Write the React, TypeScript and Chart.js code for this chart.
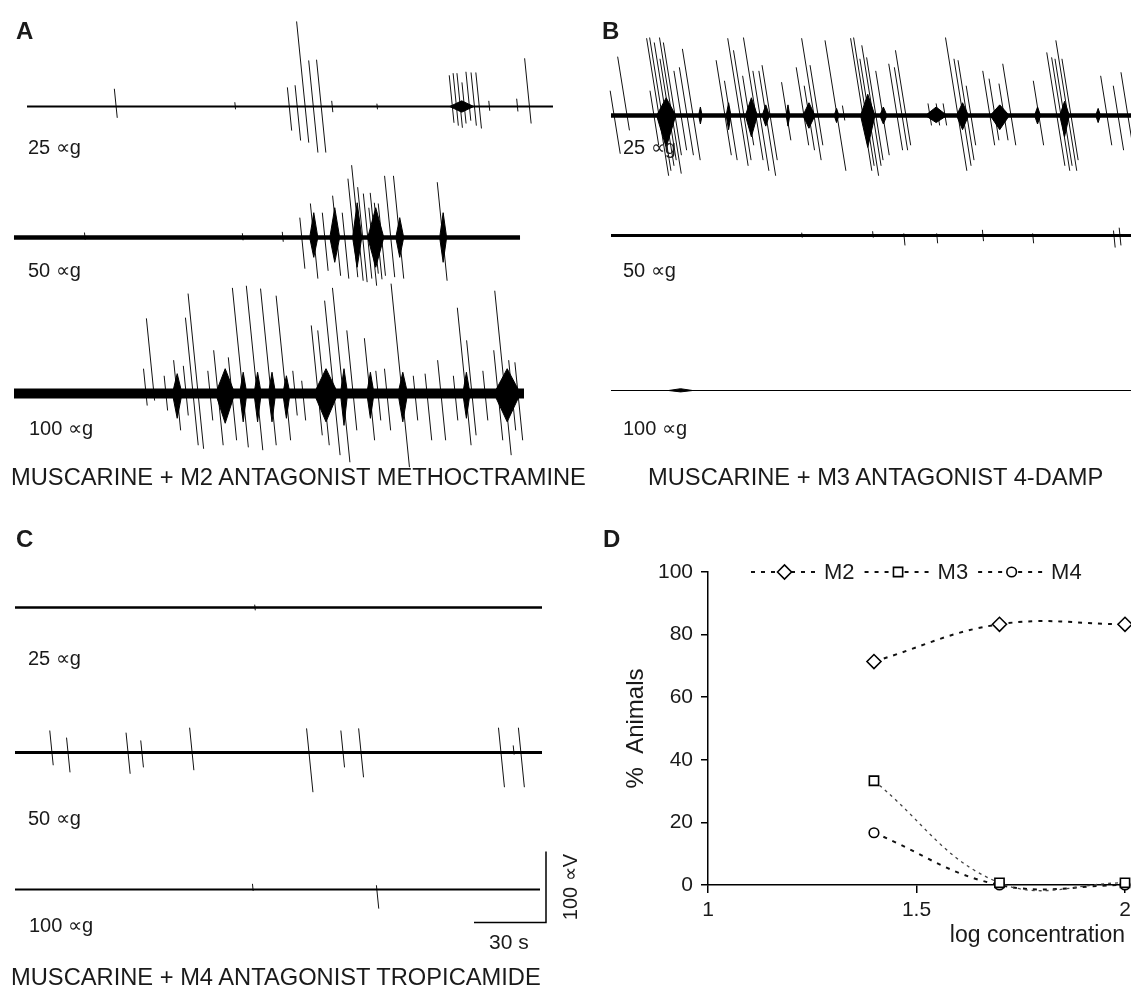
import React, { useEffect, useRef } from "react";
import { Chart, registerables } from "chart.js";
import { drawPoint } from "chart.js/helpers";

Chart.register(...registerables);

const FONT = '"Liberation Sans", Arial, Helvetica, sans-serif';
const INK = "#1a1a1a";
Chart.defaults.font.family = FONT;

// Recording calibration (scale bar: 30 s horizontal, 100 µV vertical)
const PX_PER_S = 2.4;
const PX_PER_UV = 0.71;
const Y_RANGE = 170; // µV shown above / below each baseline
const SIDE = 24; // spare canvas room either side of a trace

// Spikes: [time s, upward deflection µV, downward deflection µV]
// Bursts: [start s, end s, upward envelope µV, downward envelope µV]
type Spike = [number, number, number];
type Burst = [number, number, number, number];

// ---- Panel A: muscarine + M2 antagonist methoctramine ----
const a25Spikes: Spike[] = [
  [37.1, 25, 16], [86.7, 6, 4], [109.2, 27, 34], [112.5, 30, 48], [115.8, 120, 51],
  [119.2, 65, 65], [122.5, 66, 65], [127.1, 8, 8], [145.8, 4, 4], [177.1, 44, 23],
  [178.8, 47, 27], [180.4, 47, 30], [182.1, 34, 24], [184.2, 49, 20], [186.3, 48, 27],
  [188.3, 48, 31], [192.5, 8, 6], [204.2, 11, 7], [209.2, 68, 24],
];
const a25Bursts: Burst[] = [[176, 186, 8, 8]];

const a50Spikes: Spike[] = [
  [29.6, 7, 3], [95.4, 6, 4], [112.1, 8, 6], [120.0, 28, 44], [125.0, 48, 58],
  [129.6, 35, 47], [134.6, 59, 54], [137.9, 35, 58], [141.7, 83, 56], [143.8, 102, 61],
  [145.4, 71, 63], [147.5, 62, 58], [149.2, 42, 68], [150.4, 63, 51], [151.7, 49, 59],
  [153.3, 48, 54], [157.1, 87, 56], [160.8, 87, 58], [178.8, 78, 61],
];
const a50Bursts: Burst[] = [
  [123.3, 126.7, 35, 28], [131.7, 135.8, 42, 35], [141.2, 145.0, 49, 42],
  [147.5, 154.2, 42, 42], [159.2, 162.5, 28, 28], [177.5, 180.4, 35, 35],
];

const a100Spikes: Spike[] = [
  [55.0, 35, 17], [58.3, 106, 10], [63.3, 25, 24], [67.9, 47, 52], [71.7, 39, 31],
  [74.6, 107, 73], [76.7, 141, 78], [81.7, 32, 38], [85.0, 61, 73], [90.8, 51, 66],
  [95.4, 149, 76], [101.3, 152, 80], [107.1, 148, 73], [113.3, 138, 66], [117.1, 32, 31],
  [120.4, 18, 38], [126.7, 96, 59], [129.2, 89, 73], [133.3, 131, 87], [137.1, 149, 97],
  [141.3, 89, 52], [148.3, 78, 66], [151.7, 32, 38], [155.4, 35, 52], [161.7, 155, 104],
  [167.1, 25, 38], [172.1, 28, 66], [177.9, 47, 66], [183.8, 25, 38], [188.3, 121, 73],
  [190.8, 75, 59], [196.3, 32, 38], [201.7, 61, 66], [204.6, 145, 87], [207.5, 47, 52],
  [210.0, 44, 66],
];
const a100Bursts: Burst[] = [
  [66, 70, 28, 35], [84, 92, 35, 42], [94, 97, 30, 40], [100, 103, 30, 40],
  [106, 109, 30, 40], [112, 115, 25, 35], [125, 135, 35, 40], [136, 139, 35, 45],
  [147, 150, 30, 35], [160, 164, 30, 40], [187, 190, 30, 35], [200, 211, 35, 40],
];

// ---- Panel B: muscarine + M3 antagonist 4-DAMP ----
const b25Spikes: Spike[] = [
  [1.3, 35, 54], [6.7, 83, 21], [17.9, 35, 42], [20.0, 109, 85], [21.3, 110, 78],
  [22.9, 103, 71], [24.2, 80, 63], [25.4, 110, 82], [26.7, 103, 56], [29.2, 63, 49],
  [31.7, 68, 56], [34.2, 94, 63], [47.5, 78, 56], [49.6, 49, 63], [53.8, 109, 71],
  [55.4, 92, 63], [57.5, 56, 42], [60.4, 110, 63], [62.1, 63, 78], [64.6, 63, 85],
  [66.3, 71, 63], [73.3, 47, 35], [80.4, 68, 42], [82.5, 42, 49], [84.6, 109, 63],
  [86.3, 71, 42], [94.2, 106, 78], [97.1, 14, 7], [105.0, 109, 78], [106.3, 110, 71],
  [107.5, 80, 85], [109.2, 99, 71], [110.4, 82, 63], [113.3, 63, 56], [119.2, 73, 49],
  [121.3, 68, 49], [122.9, 92, 42], [132.9, 17, 14], [136.3, 17, 14], [139.2, 17, 14],
  [144.6, 110, 78], [146.7, 80, 71], [148.3, 78, 63], [150.0, 42, 42], [157.9, 63, 42],
  [160.0, 52, 35], [163.8, 45, 35], [166.7, 73, 42], [178.3, 49, 42], [185.8, 89, 71],
  [187.5, 82, 78], [188.8, 80, 71], [190.4, 106, 78], [191.7, 80, 63], [206.7, 56, 42],
  [211.3, 42, 49], [215.4, 61, 42],
];
const b25Bursts: Burst[] = [
  [19, 27, 25, 45], [36.5, 38, 12, 12], [48, 50, 18, 20], [56, 61, 25, 30],
  [63, 66, 15, 15], [73, 74.5, 15, 15], [80, 85, 18, 18], [93, 95, 10, 10],
  [104, 110, 30, 45], [112, 115, 12, 12], [131, 140, 12, 10], [144, 149, 18, 20],
  [158, 166, 15, 20], [176.5, 179, 12, 12], [187, 191, 20, 30], [202, 204, 10, 10],
];

const b50Spikes: Spike[] = [
  [79.6, 4, 3], [109.2, 6, 3], [122.1, 3, 14], [135.8, 3, 11],
  [155.0, 8, 8], [175.8, 3, 11], [209.6, 7, 17], [212.1, 11, 14],
];
const b100Bursts: Burst[] = [[24, 34, 2.5, 2]];

// ---- Panel C: muscarine + M4 antagonist tropicamide ----
const c25Spikes: Spike[] = [[100, 4, 4]];
const c50Spikes: Spike[] = [
  [15.4, 31, 18], [22.1, 21, 28], [47.1, 28, 30], [52.9, 17, 21], [73.8, 35, 25],
  [122.5, 34, 56], [136.7, 31, 21], [144.2, 34, 35], [202.5, 35, 49], [207.9, 10, 3],
  [210.8, 35, 49],
];
const c100Spikes: Spike[] = [[99.2, 8, 2], [150.8, 6, 27]];

const SCALE_BAR = { seconds: 30, microvolts: 100, atSecond: 221.3, fromMicrovolts: -46.5 };

// ---- Panel D: % animals responding vs log concentration ----
const logConcentration = [1.398, 1.699, 2];
const m2Percent = [71.4, 83.3, 83.3];
const m3Percent = [33.3, 0.7, 0.7];
const m4Percent = [16.7, 0, 0];
const yTicks = { min: 0, max: 100, step: 20 };
const xTicks = { min: 1, max: 2, step: 0.5 };

type TraceProps = {
  left: number;
  baseline: number;
  duration: number;
  noise: number;
  spikes?: Spike[];
  bursts?: Burst[];
  lean?: number;
  scaleBar?: typeof SCALE_BAR;
};

function Trace({ left, baseline, duration, noise, spikes = [], bursts = [], lean = 0.1, scaleBar }: TraceProps) {
  const ref = useRef<HTMLCanvasElement>(null);
  const width = Math.round(duration * PX_PER_S) + 2 * SIDE;
  const height = Math.round(2 * Y_RANGE * PX_PER_UV);

  useEffect(() => {
    if (!ref.current) return;
    // pen deflections lean: peaks drift back, troughs drift forward
    const leanS = (lean * PX_PER_UV) / PX_PER_S;
    const spikePts: any[] = [];
    spikes.forEach(([t, up, down]) => {
      spikePts.push({ x: t - up * leanS, y: up }, { x: t + down * leanS, y: -down }, { x: t, y: null });
    });
    const upper: any[] = [];
    const lower: any[] = [];
    bursts.forEach(([t0, t1, up, down]) => {
      const m = (t0 + t1) / 2;
      upper.push({ x: t0, y: 0 }, { x: m, y: up }, { x: t1, y: 0 });
      lower.push({ x: t0, y: 0 }, { x: m, y: -down }, { x: t1, y: 0 });
    });
    const common = { pointRadius: 0, tension: 0, clip: false as any, borderColor: "#000" };
    const datasets: any[] = [
      { ...common, data: [{ x: 0, y: 0 }, { x: duration, y: 0 }], borderWidth: Math.max(1, 2 * noise * PX_PER_UV), borderCapStyle: "butt" },
      { ...common, data: upper, fill: "origin", backgroundColor: "#000", borderWidth: 1 },
      { ...common, data: lower, fill: "origin", backgroundColor: "#000", borderWidth: 1 },
      { ...common, data: spikePts, borderColor: "#111", borderWidth: 1, spanGaps: false },
    ];
    if (scaleBar) {
      const { seconds, microvolts, atSecond, fromMicrovolts } = scaleBar;
      datasets.push({
        ...common,
        data: [
          { x: atSecond - seconds, y: fromMicrovolts },
          { x: atSecond, y: fromMicrovolts },
          { x: atSecond, y: fromMicrovolts + microvolts },
        ],
        borderWidth: 1.5,
        borderJoinStyle: "miter",
      });
    }
    const margin = SIDE / PX_PER_S;
    const chart = new Chart(ref.current, {
      type: "line",
      data: { datasets },
      options: {
        responsive: false,
        animation: false,
        events: [],
        layout: { padding: 0 },
        scales: {
          x: { type: "linear", display: false, min: -margin, max: duration + margin },
          y: { type: "linear", display: false, min: -Y_RANGE, max: Y_RANGE },
        },
        plugins: { legend: { display: false }, tooltip: { enabled: false } },
      },
    });
    return () => chart.destroy();
  }, []);

  return (
    <canvas
      ref={ref}
      width={width}
      height={height}
      style={{ position: "absolute", left: left - SIDE, top: baseline - height / 2, width, height }}
    />
  );
}

// Legend row drawn along the top of the plot: dashed stroke, marker, name
const legendRow = {
  id: "legendRow",
  afterDraw(chart: any) {
    const { ctx, chartArea } = chart;
    ctx.save();
    ctx.font = `22px ${FONT}`;
    ctx.textBaseline = "middle";
    const y = chartArea.top;
    let x = chartArea.left + 43;
    chart.data.datasets.forEach((ds: any) => {
      ctx.strokeStyle = "#111";
      ctx.lineWidth = 2;
      ctx.setLineDash([4, 6]);
      ctx.beginPath();
      ctx.moveTo(x, y);
      ctx.lineTo(x + 67, y);
      ctx.stroke();
      ctx.setLineDash([]);
      ctx.fillStyle = "#fff";
      ctx.strokeStyle = "#000";
      ctx.lineWidth = ds.pointBorderWidth;
      drawPoint(ctx, { pointStyle: ds.pointStyle, radius: ds.pointRadius, borderWidth: ds.pointBorderWidth, rotation: 0 } as any, x + 33.5, y);
      ctx.fillStyle = INK;
      ctx.fillText(ds.label, x + 73, y + 1);
      x += 73 + ctx.measureText(ds.label).width + 10;
    });
    ctx.restore();
  },
};

function DoseResponse() {
  const ref = useRef<HTMLCanvasElement>(null);
  useEffect(() => {
    if (!ref.current) return;
    const pts = (vals: number[]) => logConcentration.map((x, i) => ({ x, y: vals[i] }));
    const series = (label: string, vals: number[], style: string, radius: number, color: string, width: number, dash: number[]) => ({
      label,
      data: pts(vals),
      borderColor: color,
      borderWidth: width,
      borderDash: dash,
      tension: 0.4,
      capBezierPoints: false,
      pointStyle: style,
      pointRadius: radius,
      pointBorderWidth: 1.6,
      pointBorderColor: "#000",
      pointBackgroundColor: "#fff",
      clip: false,
    });
    const axisGrid = (len: number) => ({ display: true, drawOnChartArea: false, drawTicks: true, tickLength: len, color: "#000", lineWidth: 1.5 });
    const chart = new Chart(ref.current, {
      type: "line",
      data: {
        datasets: [
          series("M2", m2Percent, "rectRot", 7, "#111", 2, [4, 6]),
          series("M3", m3Percent, "rect", 6.5, "#444", 1.3, [3, 4]),
          series("M4", m4Percent, "circle", 4.8, "#111", 2, [4, 6]),
        ] as any,
      },
      options: {
        responsive: false,
        animation: false,
        events: [],
        elements: { line: { capBezierPoints: false } },
        layout: { padding: { left: 42, right: 55, top: 32, bottom: 31 } },
        scales: {
          x: {
            type: "linear",
            min: xTicks.min,
            max: xTicks.max,
            ticks: { stepSize: xTicks.step, font: { size: 21, family: FONT }, color: INK, padding: 5, maxRotation: 0, callback: (v: any) => `${v}` },
            grid: axisGrid(8) as any,
            border: { display: true, color: "#000", width: 1.5 },
            title: { display: true, text: "log concentration", align: "end", font: { size: 23, family: FONT }, color: INK, padding: 0 },
            afterFit: (s: any) => { s.height = 64; },
          },
          y: {
            type: "linear",
            min: yTicks.min,
            max: yTicks.max,
            ticks: { stepSize: yTicks.step, font: { size: 21, family: FONT }, color: INK, padding: 8 },
            grid: axisGrid(7) as any,
            border: { display: true, color: "#000", width: 1.5 },
            title: { display: true, text: "%  Animals", font: { size: 24, family: FONT }, color: INK, padding: 0 },
            afterFit: (s: any) => { s.width = 86; },
          },
        },
        plugins: { legend: { display: false }, tooltip: { enabled: false } },
      },
      plugins: [legendRow],
    });
    return () => chart.destroy();
  }, []);
  return <canvas ref={ref} width={600} height={440} style={{ position: "absolute", left: 580, top: 540, width: 600, height: 440 }} />;
}

function Text({ x, y, size, bold, children, rotate }: { x: number; y: number; size: number; bold?: boolean; children: React.ReactNode; rotate?: boolean }) {
  const style: React.CSSProperties = rotate
    ? { position: "absolute", left: x, top: y, fontSize: size, lineHeight: `${size}px`, whiteSpace: "nowrap", transform: "translate(-50%, -50%) rotate(-90deg)" }
    : { position: "absolute", left: x, top: y - 0.49 * size, fontSize: size, lineHeight: `${size}px`, whiteSpace: "nowrap", fontWeight: bold ? 700 : 400 };
  return <div style={style}>{children}</div>;
}

export default function App() {
  return (
    <div style={{ position: "fixed", left: 0, top: 0, width: 1131, height: 988, overflow: "hidden", background: "#fff", fontFamily: FONT, color: INK }}>
      {/* A */}
      <Trace left={27} baseline={106} duration={219} noise={1.4} spikes={a25Spikes} bursts={a25Bursts} />
      <Trace left={14} baseline={237} duration={211} noise={3.2} spikes={a50Spikes} bursts={a50Bursts} />
      <Trace left={14} baseline={393} duration={212.5} noise={7} spikes={a100Spikes} bursts={a100Bursts} />
      {/* B */}
      <Trace left={611} baseline={115} duration={216.7} noise={3} spikes={b25Spikes} bursts={b25Bursts} lean={0.16} />
      <Trace left={611} baseline={235} duration={216.7} noise={2} spikes={b50Spikes} />
      <Trace left={611} baseline={390} duration={216.7} noise={0.7} bursts={b100Bursts} />
      {/* C */}
      <Trace left={15} baseline={607} duration={219.6} noise={1.8} spikes={c25Spikes} />
      <Trace left={15} baseline={752} duration={219.6} noise={2.2} spikes={c50Spikes} />
      <Trace left={15} baseline={889} duration={218.8} noise={1.4} spikes={c100Spikes} scaleBar={SCALE_BAR} />
      {/* D */}
      <DoseResponse />

      <Text x={16} y={30.5} size={24} bold>A</Text>
      <Text x={602} y={30.5} size={24} bold>B</Text>
      <Text x={16} y={538.5} size={24} bold>C</Text>
      <Text x={603} y={538.5} size={24} bold>D</Text>

      <Text x={28} y={147} size={20}>25 ∝g</Text>
      <Text x={28} y={270} size={20}>50 ∝g</Text>
      <Text x={29} y={428} size={20}>100 ∝g</Text>
      <Text x={623} y={147} size={20}>25 ∝g</Text>
      <Text x={623} y={270} size={20}>50 ∝g</Text>
      <Text x={623} y={428} size={20}>100 ∝g</Text>
      <Text x={28} y={658} size={20}>25 ∝g</Text>
      <Text x={28} y={818} size={20}>50 ∝g</Text>
      <Text x={29} y={925} size={20}>100 ∝g</Text>

      <Text x={11} y={478} size={23.7}>MUSCARINE + M2 ANTAGONIST METHOCTRAMINE</Text>
      <Text x={648} y={478} size={23.7}>MUSCARINE + M3 ANTAGONIST 4-DAMP</Text>
      <Text x={11} y={978} size={23.7}>MUSCARINE + M4 ANTAGONIST TROPICAMIDE</Text>

      <Text x={489} y={941} size={21}>30 s</Text>
      <Text x={570} y={887} size={20} rotate>100 ∝V</Text>
    </div>
  );
}
